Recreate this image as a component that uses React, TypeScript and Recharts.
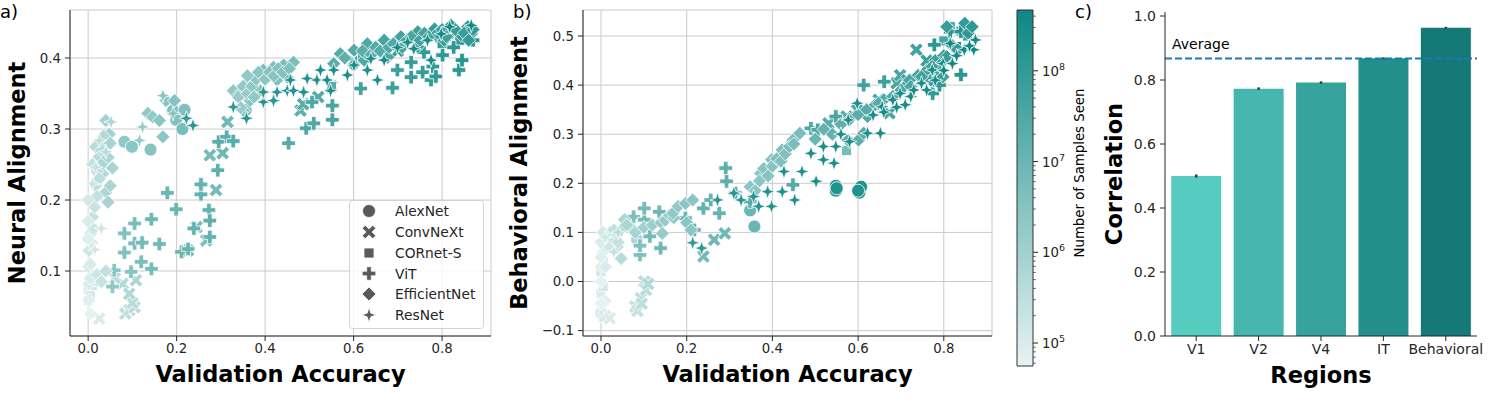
import React from 'react';
import {
  ScatterChart, Scatter, XAxis, YAxis, CartesianGrid,
  BarChart, Bar, Cell, ErrorBar, ReferenceLine, ReferenceArea, ComposedChart,
} from 'recharts';

// [validation accuracy, alignment, log10(samples seen)]
type Pt = [number, number, number];

// ---------- Panel a: Neural alignment ----------
const alexNetNeural: Pt[] = [
  [0.031, 0.266, 5.6], [0.082, 0.282, 6.3], [0.099, 0.275, 6.4], [0.141, 0.271, 6.5], [0.192, 0.326, 6.6],
  [0.199, 0.313, 6.6], [0.213, 0.300, 6.7], [0.218, 0.327, 6.6], [0.356, 0.327, 6.8], [0.372, 0.345, 6.7],
];
const convNextNeural: Pt[] = [
  [0.025, 0.033, 5.0], [0.084, 0.040, 5.5], [0.093, 0.045, 5.5], [0.105, 0.049, 5.6], [0.100, 0.055, 5.6],
  [0.078, 0.082, 5.7], [0.093, 0.068, 5.7], [0.108, 0.087, 5.8], [0.060, 0.090, 5.6],
  [0.226, 0.129, 6.6], [0.245, 0.162, 6.7], [0.267, 0.143, 6.7], [0.275, 0.263, 6.8], [0.289, 0.214, 6.8],
  [0.304, 0.266, 6.9], [0.315, 0.310, 6.9], [0.480, 0.326, 7.2], [0.486, 0.335, 7.3], [0.520, 0.345, 7.4],
  [0.550, 0.360, 7.5], [0.600, 0.395, 7.6], [0.700, 0.410, 7.8], [0.780, 0.430, 8.0], [0.830, 0.435, 8.1],
];
const cornetNeural: Pt[] = [
  [0.000, 0.058, 4.9], [0.000, 0.073, 5.0], [0.005, 0.065, 5.1], [0.010, 0.080, 5.2], [0.020, 0.085, 5.4],
  [0.550, 0.360, 7.3], [0.620, 0.400, 7.5], [0.800, 0.420, 7.9], [0.840, 0.425, 8.0], [0.860, 0.430, 8.1],
];
const vitNeural: Pt[] = [
  [0.055, 0.078, 6.3], [0.059, 0.101, 6.4], [0.082, 0.126, 6.6], [0.082, 0.153, 6.6], [0.097, 0.099, 6.5],
  [0.105, 0.139, 6.7], [0.105, 0.167, 6.7], [0.120, 0.113, 6.7], [0.122, 0.140, 6.8], [0.143, 0.103, 6.8],
  [0.143, 0.173, 6.9], [0.161, 0.138, 6.9], [0.179, 0.210, 7.0], [0.199, 0.187, 7.0], [0.211, 0.127, 7.0],
  [0.226, 0.131, 7.0], [0.239, 0.160, 7.1], [0.255, 0.208, 7.1], [0.255, 0.222, 7.1], [0.273, 0.186, 7.1],
  [0.275, 0.148, 7.1], [0.275, 0.171, 7.2], [0.293, 0.242, 7.2], [0.295, 0.282, 7.3], [0.313, 0.289, 7.3],
  [0.328, 0.283, 7.3], [0.453, 0.280, 7.4], [0.493, 0.301, 7.5], [0.510, 0.308, 7.5], [0.506, 0.338, 7.5],
  [0.552, 0.313, 7.6], [0.552, 0.333, 7.6], [0.616, 0.357, 7.7], [0.688, 0.358, 7.8], [0.699, 0.383, 7.8],
  [0.730, 0.373, 7.9], [0.730, 0.394, 7.9], [0.756, 0.380, 7.9], [0.759, 0.408, 8.0], [0.775, 0.369, 8.0],
  [0.779, 0.388, 8.0], [0.786, 0.374, 8.0], [0.801, 0.404, 8.1], [0.826, 0.415, 8.1], [0.838, 0.383, 8.1],
  [0.845, 0.397, 8.2], [0.870, 0.425, 8.2],
];
const effNetNeural: Pt[] = [
  [0.002, 0.059, 4.9], [0.006, 0.040, 4.8], [0.002, 0.082, 5.0], [0.002, 0.106, 5.1], [0.002, 0.129, 5.2],
  [0.006, 0.153, 5.3], [0.010, 0.176, 5.4], [0.010, 0.200, 5.4], [0.017, 0.220, 5.5], [0.025, 0.261, 5.6],
  [0.017, 0.275, 5.6], [0.033, 0.237, 5.7], [0.040, 0.211, 5.8], [0.045, 0.197, 5.9], [0.040, 0.279, 5.9],
  [0.048, 0.293, 6.0], [0.040, 0.312, 6.0], [0.030, 0.250, 5.8], [0.020, 0.240, 5.5],
  [0.005, 0.090, 5.0], [0.005, 0.110, 5.0], [0.008, 0.140, 5.1], [0.012, 0.160, 5.2], [0.015, 0.190, 5.3],
  [0.020, 0.205, 5.4], [0.025, 0.230, 5.5], [0.030, 0.270, 5.6], [0.035, 0.290, 5.7], [0.045, 0.260, 5.8],
  [0.050, 0.280, 5.9], [0.055, 0.245, 5.9], [0.050, 0.220, 5.8], [0.010, 0.250, 5.4], [0.000, 0.200, 5.1],
  [0.000, 0.170, 5.0], [0.000, 0.145, 4.9], [0.020, 0.095, 5.2], [0.030, 0.085, 5.3], [0.040, 0.100, 5.4],
  [0.135, 0.322, 6.3], [0.146, 0.317, 6.3], [0.161, 0.312, 6.4], [0.169, 0.289, 6.4], [0.176, 0.340, 6.5],
  [0.195, 0.340, 6.5], [0.328, 0.354, 6.3], [0.343, 0.350, 6.3], [0.351, 0.326, 6.4], [0.358, 0.364, 6.4],
  [0.366, 0.340, 6.4], [0.373, 0.373, 6.5], [0.389, 0.354, 6.5], [0.396, 0.383, 6.6], [0.419, 0.387, 6.6],
  [0.427, 0.369, 6.6], [0.442, 0.390, 6.7], [0.450, 0.373, 6.7], [0.464, 0.394, 6.7],
  [0.340, 0.345, 6.2], [0.350, 0.360, 6.3], [0.360, 0.350, 6.2], [0.370, 0.360, 6.3], [0.380, 0.370, 6.4],
  [0.385, 0.380, 6.4], [0.400, 0.370, 6.4], [0.410, 0.380, 6.5], [0.420, 0.375, 6.5], [0.430, 0.385, 6.5],
  [0.440, 0.380, 6.6], [0.455, 0.385, 6.6], [0.360, 0.375, 6.3], [0.375, 0.345, 6.3], [0.345, 0.330, 6.2],
  [0.555, 0.392, 7.3], [0.570, 0.406, 7.4], [0.601, 0.411, 7.4], [0.624, 0.397, 7.5], [0.631, 0.420, 7.5],
  [0.669, 0.425, 7.6], [0.677, 0.401, 7.6], [0.707, 0.430, 7.7], [0.745, 0.437, 7.8], [0.745, 0.416, 7.8],
  [0.783, 0.441, 7.9], [0.805, 0.425, 7.9], [0.820, 0.446, 8.0], [0.843, 0.432, 8.0], [0.858, 0.444, 8.1],
  [0.866, 0.434, 8.1],
  [0.580, 0.400, 7.2], [0.600, 0.390, 7.3], [0.620, 0.410, 7.3], [0.640, 0.405, 7.4], [0.650, 0.415, 7.4],
  [0.660, 0.410, 7.4], [0.680, 0.415, 7.5], [0.690, 0.420, 7.5], [0.710, 0.415, 7.6], [0.720, 0.425, 7.6],
  [0.730, 0.430, 7.6], [0.750, 0.425, 7.7], [0.760, 0.435, 7.7], [0.770, 0.430, 7.7], [0.790, 0.435, 7.8],
  [0.800, 0.440, 7.8], [0.810, 0.430, 7.8], [0.830, 0.440, 7.9], [0.850, 0.435, 7.9], [0.860, 0.425, 8.0],
  [0.870, 0.440, 8.0],
];
const resNetNeural: Pt[] = [
  [0.010, 0.223, 5.3], [0.017, 0.246, 5.4], [0.025, 0.284, 5.5], [0.040, 0.268, 5.6], [0.052, 0.310, 5.8],
  [0.116, 0.284, 6.2], [0.123, 0.303, 6.2], [0.169, 0.347, 6.4], [0.192, 0.322, 6.5], [0.030, 0.160, 5.2],
  [0.015, 0.130, 5.1],
  [0.222, 0.315, 8.0], [0.237, 0.305, 8.1], [0.328, 0.331, 8.1], [0.358, 0.315, 8.2], [0.396, 0.338, 8.2],
  [0.396, 0.352, 8.2], [0.419, 0.340, 8.2], [0.427, 0.352, 8.2], [0.450, 0.354, 8.3], [0.457, 0.369, 8.3],
  [0.464, 0.354, 8.3], [0.487, 0.352, 8.3], [0.495, 0.371, 8.3], [0.517, 0.369, 8.3], [0.525, 0.383, 8.4],
  [0.540, 0.369, 8.4], [0.548, 0.354, 8.4], [0.555, 0.383, 8.4], [0.586, 0.376, 8.4], [0.601, 0.390, 8.4],
  [0.631, 0.383, 8.4], [0.639, 0.399, 8.4], [0.654, 0.369, 8.4], [0.669, 0.397, 8.5], [0.699, 0.415, 8.5],
  [0.722, 0.422, 8.5], [0.736, 0.413, 8.5], [0.767, 0.425, 8.5], [0.775, 0.397, 8.5], [0.798, 0.434, 8.5],
  [0.817, 0.444, 8.6], [0.866, 0.446, 8.6],
];

// ---------- Panel b: Behavioral alignment ----------
const alexNetBehav: Pt[] = [
  [0.000, -0.064, 5.0], [0.084, 0.085, 5.8], [0.348, 0.145, 7.0], [0.358, 0.112, 7.0], [0.548, 0.195, 8.2],
  [0.548, 0.185, 8.1], [0.603, 0.181, 8.2], [0.607, 0.193, 8.3], [0.600, 0.185, 8.3], [0.550, 0.190, 8.3],
];
const convNextBehav: Pt[] = [
  [0.009, -0.071, 5.1], [0.020, -0.075, 5.0], [0.080, -0.051, 5.4], [0.085, -0.060, 5.4], [0.093, -0.034, 5.5],
  [0.095, -0.045, 5.5], [0.101, 0.000, 5.6], [0.105, -0.017, 5.6], [0.110, -0.005, 5.7], [0.239, 0.051, 6.8],
  [0.264, 0.085, 6.9], [0.289, 0.098, 6.9], [0.573, 0.336, 7.4], [0.598, 0.349, 7.5], [0.648, 0.370, 7.5],
  [0.673, 0.343, 7.6], [0.690, 0.404, 7.6], [0.698, 0.420, 7.6], [0.715, 0.410, 7.7], [0.736, 0.472, 7.7],
  [0.760, 0.450, 7.8], [0.531, 0.322, 7.3],
];
const cornetBehav: Pt[] = [
  [0.000, -0.024, 5.0], [0.005, -0.010, 5.1], [0.000, 0.020, 5.2], [0.005, 0.040, 5.3], [0.573, 0.267, 6.8],
  [0.815, 0.519, 7.6], [0.840, 0.510, 7.7], [0.855, 0.500, 7.8], [0.800, 0.490, 7.6],
];
const vitBehav: Pt[] = [
  [0.076, 0.132, 6.7], [0.091, 0.054, 6.6], [0.091, 0.073, 6.6], [0.101, 0.126, 6.8], [0.101, 0.149, 6.8],
  [0.114, 0.092, 6.8], [0.136, 0.142, 6.9], [0.139, 0.068, 6.9], [0.197, 0.129, 7.0], [0.218, 0.105, 7.0],
  [0.239, 0.149, 7.1], [0.256, 0.166, 7.1], [0.276, 0.139, 7.1], [0.291, 0.231, 7.2], [0.293, 0.204, 7.2],
  [0.314, 0.180, 7.2], [0.348, 0.163, 7.3], [0.448, 0.197, 7.4], [0.490, 0.312, 7.5], [0.506, 0.309, 7.5],
  [0.548, 0.336, 7.6], [0.613, 0.400, 7.7], [0.661, 0.407, 7.8], [0.774, 0.383, 8.0], [0.790, 0.400, 8.0],
  [0.778, 0.482, 8.1], [0.815, 0.509, 8.2], [0.836, 0.475, 8.2], [0.840, 0.421, 8.2], [0.840, 0.509, 8.2],
];
const effNetBehav: Pt[] = [
  [0.000, 0.000, 4.8], [0.000, 0.030, 4.9], [0.005, 0.060, 5.0], [0.013, 0.085, 5.2], [0.020, 0.100, 5.3],
  [0.038, 0.071, 5.5], [0.047, 0.047, 5.6], [0.047, 0.105, 5.7], [0.055, 0.126, 5.8], [0.070, 0.110, 5.9],
  [0.000, 0.050, 4.9], [0.000, 0.080, 5.0], [0.005, 0.100, 5.1], [0.010, 0.030, 5.0], [0.010, -0.040, 4.9],
  [0.000, -0.045, 4.8], [0.020, 0.070, 5.2], [0.025, 0.090, 5.3], [0.030, 0.105, 5.4], [0.040, 0.080, 5.4],
  [0.060, 0.115, 5.8], [0.080, 0.100, 5.9], [0.100, 0.110, 6.0], [0.120, 0.115, 6.1], [0.140, 0.120, 6.2],
  [0.150, 0.125, 6.2], [0.160, 0.135, 6.3], [0.170, 0.130, 6.3], [0.200, 0.120, 6.4], [0.210, 0.105, 6.4],
  [0.143, 0.098, 6.2], [0.168, 0.139, 6.3], [0.180, 0.153, 6.3], [0.197, 0.159, 6.4], [0.214, 0.166, 6.4],
  [0.348, 0.193, 6.4], [0.373, 0.220, 6.5], [0.398, 0.248, 6.5], [0.423, 0.268, 6.6], [0.448, 0.288, 6.7],
  [0.464, 0.302, 6.7], [0.576, 0.288, 7.2], [0.601, 0.288, 7.3], [0.613, 0.302, 7.3], [0.622, 0.336, 7.4],
  [0.370, 0.205, 6.4], [0.380, 0.230, 6.5], [0.390, 0.215, 6.5], [0.400, 0.235, 6.5], [0.410, 0.250, 6.6],
  [0.420, 0.245, 6.6], [0.430, 0.260, 6.6], [0.440, 0.275, 6.7], [0.450, 0.280, 6.7], [0.360, 0.185, 6.4],
  [0.500, 0.290, 7.0], [0.520, 0.310, 7.1], [0.540, 0.300, 7.1], [0.560, 0.320, 7.2], [0.580, 0.330, 7.2],
  [0.600, 0.340, 7.3], [0.620, 0.350, 7.4], [0.640, 0.360, 7.4], [0.660, 0.370, 7.5], [0.700, 0.390, 7.5],
  [0.720, 0.410, 7.6], [0.740, 0.420, 7.6], [0.760, 0.430, 7.7], [0.780, 0.450, 7.8], [0.790, 0.440, 7.8],
  [0.800, 0.460, 7.9], [0.820, 0.480, 7.9], [0.780, 0.420, 7.8], [0.770, 0.410, 7.7],
  [0.648, 0.363, 7.4], [0.681, 0.377, 7.5], [0.723, 0.397, 7.6], [0.748, 0.417, 7.7], [0.773, 0.438, 7.8],
  [0.798, 0.417, 7.8], [0.807, 0.458, 7.9], [0.807, 0.519, 7.9], [0.832, 0.472, 8.0], [0.849, 0.526, 8.0],
  [0.857, 0.506, 8.1], [0.866, 0.519, 8.1],
];
const resNetBehav: Pt[] = [
  [0.010, 0.090, 5.2], [0.030, 0.060, 5.4], [0.040, 0.100, 5.6],
  [0.214, 0.079, 8.0], [0.235, 0.068, 8.1], [0.272, 0.166, 8.1], [0.310, 0.180, 8.2], [0.327, 0.166, 8.2],
  [0.356, 0.173, 8.2], [0.368, 0.153, 8.2], [0.389, 0.183, 8.3], [0.398, 0.153, 8.3], [0.423, 0.183, 8.3],
  [0.427, 0.224, 8.3], [0.452, 0.166, 8.3], [0.469, 0.224, 8.3], [0.490, 0.261, 8.4], [0.502, 0.204, 8.4],
  [0.519, 0.248, 8.4], [0.519, 0.275, 8.4], [0.544, 0.241, 8.4], [0.548, 0.275, 8.4], [0.577, 0.329, 8.4],
  [0.598, 0.363, 8.4], [0.622, 0.302, 8.4], [0.635, 0.339, 8.5], [0.652, 0.302, 8.5], [0.656, 0.356, 8.5],
  [0.681, 0.370, 8.5], [0.698, 0.383, 8.5], [0.723, 0.377, 8.5], [0.748, 0.404, 8.5], [0.773, 0.431, 8.5],
  [0.798, 0.444, 8.6], [0.815, 0.485, 8.6], [0.820, 0.444, 8.6], [0.848, 0.472, 8.6], [0.870, 0.472, 8.6],
  [0.874, 0.492, 8.6],
  [0.660, 0.345, 8.5], [0.690, 0.355, 8.5], [0.710, 0.360, 8.5], [0.730, 0.390, 8.5], [0.760, 0.390, 8.5],
  [0.780, 0.410, 8.5], [0.800, 0.430, 8.6], [0.830, 0.460, 8.6], [0.860, 0.480, 8.6], [0.560, 0.300, 8.4],
  [0.580, 0.285, 8.4],
];

// ---------- Panel c ----------
const regions = ['V1', 'V2', 'V4', 'IT', 'Behavioral'];
const correlations = [0.500, 0.773, 0.792, 0.868, 0.963];
const correlationErrors = [0.005, 0.004, 0.004, 0.003, 0.003];
const regionColors = ['#56ccc1', '#45b7ae', '#36a39c', '#228f8a', '#137a77'];
const averageCorrelation = 0.867;

const modelNames = ['AlexNet', 'ConvNeXt', 'CORnet-S', 'ViT', 'EfficientNet', 'ResNet'];
const accTicks = [0, 0.2, 0.4, 0.6, 0.8];
const neuralTicks = [0.1, 0.2, 0.3, 0.4];
const behavTicks = [-0.1, 0, 0.1, 0.2, 0.3, 0.4, 0.5];
const corrTicks = [0, 0.2, 0.4, 0.6, 0.8, 1.0];

// ---------- styling ----------
const FONT = 'DejaVu Sans, sans-serif';
const INK = '#262626';
const GRID = '#cbcbcb';
const LOG_MIN = 4.747;
const LOG_MAX = 8.67;
const CM_LO = [231, 243, 242];
const CM_HI = [13, 136, 132];

function sampleColor(l: number): string {
  const t = Math.max(0, Math.min(1, (l - LOG_MIN) / (LOG_MAX - LOG_MIN)));
  const c = CM_LO.map((v, i) => Math.round(v + (CM_HI[i] - v) * t));
  return `rgb(${c[0]},${c[1]},${c[2]})`;
}

type Kind = 'circle' | 'x' | 'square' | 'plus' | 'diamond' | 'star';
const kinds: Kind[] = ['circle', 'x', 'square', 'plus', 'diamond', 'star'];

function plusPoly(s: number, a: number, rot: number): number[][] {
  const base = [[-a, -s], [a, -s], [a, -a], [s, -a], [s, a], [a, a], [a, s], [-a, s], [-a, a], [-s, a], [-s, -a], [-a, -a]];
  const c = Math.cos(rot), sn = Math.sin(rot);
  return base.map(([x, y]) => [x * c - y * sn, x * sn + y * c]);
}

function Marker({ kind, cx, cy, fill, stroke = '#ffffff', sw = 0.8 }: any) {
  const common = { fill, stroke, strokeWidth: sw };
  let pts: number[][] = [];
  switch (kind) {
    case 'circle':
      return <circle cx={cx} cy={cy} r={6.5} {...common} />;
    case 'square':
      return <rect x={cx - 5} y={cy - 5} width={10} height={10} {...common} />;
    case 'plus':
      pts = plusPoly(6.8, 2.3, 0);
      break;
    case 'x':
      pts = plusPoly(7.4, 2.2, Math.PI / 4);
      break;
    case 'diamond':
      pts = [[0, -7], [7, 0], [0, 7], [-7, 0]];
      break;
    case 'star':
      for (let i = 0; i < 8; i++) {
        const ang = (i * Math.PI) / 4 - Math.PI / 2;
        const r = i % 2 === 0 ? 7.4 : 2.6;
        pts.push([r * Math.cos(ang), r * Math.sin(ang)]);
      }
      break;
  }
  const d = pts.map(([x, y], i) => `${i ? 'L' : 'M'}${(cx + x).toFixed(2)},${(cy + y).toFixed(2)}`).join('') + 'Z';
  return <path d={d} {...common} />;
}

const shapeFor = (kind: Kind) => (props: any) => {
  const { cx, cy } = props;
  if (cx == null || cy == null || isNaN(cx) || isNaN(cy)) return <g />;
  const s = props.payload?.s ?? props.s;
  return <Marker kind={kind} cx={cx} cy={cy} fill={sampleColor(s)} />;
};

const toRows = (pts: Pt[]) => pts.map(([x, y, s]) => ({ x, y, s }));
const fmt1 = (v: number) => (v < 0 ? '\u2212' : '') + Math.abs(v).toFixed(1);
const tickStyle = { fill: INK, fontSize: 13.3, fontFamily: FONT };

function ScatterPanel({ series, xDomain, yDomain, yTicks, width, margin, yAxisWidth }: any) {
  return (
    <ScatterChart width={width} height={398} margin={margin}>
      <CartesianGrid stroke={GRID} strokeWidth={1} />
      <XAxis type="number" dataKey="x" domain={xDomain} ticks={accTicks} allowDataOverflow height={30}
        tickFormatter={fmt1} tick={tickStyle} tickSize={5} tickMargin={3} stroke={INK} interval={0} />
      <YAxis type="number" dataKey="y" domain={yDomain} ticks={yTicks} allowDataOverflow width={yAxisWidth}
        tickFormatter={fmt1} tick={tickStyle} tickSize={5} tickMargin={4} stroke={INK} interval={0} />
      {series.map((pts: Pt[], i: number) => (
        <Scatter key={modelNames[i]} name={modelNames[i]} data={toRows(pts)} shape={shapeFor(kinds[i])} isAnimationActive={false} />
      ))}
    </ScatterChart>
  );
}

// colorbar
const CB_MIN = Math.pow(10, LOG_MIN);
const CB_MAX = Math.pow(10, LOG_MAX);
const cbTicks: number[] = [];
for (let e = 4; e <= 8; e++) {
  for (let m = 1; m <= 9; m++) {
    const v = m * Math.pow(10, e);
    if (v >= CB_MIN && v <= CB_MAX) cbTicks.push(v);
  }
}

function CbTick(props: any) {
  const { x, y, payload } = props;
  const lv = Math.log10(payload.value);
  const exp = Math.round(lv);
  const major = Math.abs(lv - exp) < 1e-6;
  return (
    <g>
      <line x1={x} x2={x + (major ? 5 : 2.8)} y1={y} y2={y} stroke={INK} strokeWidth={major ? 1 : 0.7} />
      {major && (
        <text x={x + 9} y={y + 5} fontSize={13.3} fill={INK} fontFamily={FONT}>
          10<tspan dy={-6} fontSize={9.5}>{exp}</tspan>
        </text>
      )}
    </g>
  );
}

function Colorbar() {
  return (
    <ComposedChart width={70} height={398} data={[{ x: 0.5, y: 1e6 }]} margin={{ top: 10, right: 0, bottom: 32, left: 17 }}>
      <XAxis type="number" dataKey="x" domain={[0, 1]} hide height={30} />
      <YAxis type="number" dataKey="y" orientation="right" scale="log" domain={[CB_MIN, CB_MAX]} allowDataOverflow
        ticks={cbTicks} interval={0} width={37} axisLine={false} tickLine={false} tickSize={0} tickMargin={0} tick={<CbTick />} />
      <ReferenceArea x1={0} x2={1} y1={CB_MIN} y2={CB_MAX} fill="url(#cbGrad)" fillOpacity={1} stroke="#333333" strokeWidth={1} ifOverflow="visible" />
      <Scatter dataKey="y" shape={() => <g />} isAnimationActive={false} />
    </ComposedChart>
  );
}

const regionRows = regions.map((r, i) => ({ region: r, value: correlations[i], err: correlationErrors[i] }));

function RegionPanel() {
  return (
    <BarChart width={394} height={398} data={regionRows} margin={{ top: 12, right: 17, bottom: 32, left: 0 }} barCategoryGap="10%">
      <XAxis dataKey="region" height={30} tick={{ ...tickStyle, fontSize: 14 }} tickSize={5} tickMargin={3} stroke={INK} interval={0} />
      <YAxis type="number" domain={[0, 1.0125]} ticks={corrTicks} allowDataOverflow width={65}
        tickFormatter={fmt1} tick={{ ...tickStyle, fontSize: 14 }} tickSize={5} tickMargin={4} stroke={INK} interval={0} />
      <Bar dataKey="value" isAnimationActive={false}>
        {regionRows.map((r, i) => <Cell key={r.region} fill={regionColors[i]} />)}
        <ErrorBar dataKey="err" width={0} strokeWidth={2.5} stroke="#3d3d3d" direction="y" />
      </Bar>
      <ReferenceLine y={averageCorrelation} stroke="#1f77b4" strokeWidth={2} strokeDasharray="7 3" />
    </BarChart>
  );
}

const legendRowsY = [211, 232, 253, 273.5, 294, 315];

function Overlay() {
  const bold = { fontFamily: FONT, fontWeight: 700, fontSize: 22.5, fill: '#000' } as any;
  const plain = { fontFamily: FONT, fill: '#000' } as any;
  return (
    <svg width={1494} height={398} style={{ position: 'absolute', left: 0, top: 0, pointerEvents: 'none' }}>
      <defs>
        <linearGradient id="cbGrad" x1="0" y1="1" x2="0" y2="0">
          <stop offset="0" stopColor={sampleColor(LOG_MIN)} />
          <stop offset="1" stopColor={sampleColor(LOG_MAX)} />
        </linearGradient>
      </defs>
      <text x={0} y={18} fontSize={18} {...plain}>a)</text>
      <text x={513} y={18} fontSize={18} {...plain}>b)</text>
      <text x={1075} y={18} fontSize={18} {...plain}>c)</text>

      <text x={280.5} y={382} textAnchor="middle" {...bold}>Validation Accuracy</text>
      <text transform="translate(25,173) rotate(-90)" textAnchor="middle" {...bold}>Neural Alignment</text>
      <text x={787.5} y={382} textAnchor="middle" {...bold}>Validation Accuracy</text>
      <text transform="translate(527,173) rotate(-90)" textAnchor="middle" {...bold}>Behavioral Alignment</text>
      <text transform="translate(1084,173) rotate(-90)" textAnchor="middle" fontSize={13.3} {...plain}>Number of Samples Seen</text>
      <text transform="translate(1122,174) rotate(-90)" textAnchor="middle" {...bold}>Correlation</text>
      <text x={1321} y={383} textAnchor="middle" {...bold}>Regions</text>
      <text x={1172} y={48.5} fontSize={14} {...plain}>Average</text>

      <rect x={349.5} y={200.5} width={134} height={128} rx={3} fill="#ffffff" fillOpacity={0.8} stroke="#d3d3d3" strokeWidth={1} />
      {modelNames.map((name, i) => (
        <g key={name}>
          <Marker kind={kinds[i]} cx={369} cy={legendRowsY[i]} fill="#5a5a5a" stroke="#ffffff" sw={0.8} />
          <text x={395} y={legendRowsY[i] + 5} fontSize={13.8} {...plain} fill={INK}>{name}</text>
        </g>
      ))}
    </svg>
  );
}

export default function App() {
  return (
    <div style={{ position: 'absolute', left: 0, top: 0, width: 1494, height: 398, background: '#ffffff', fontFamily: FONT }}>
      <div style={{ position: 'absolute', left: 0, top: 0 }}>
        <ScatterPanel
          series={[alexNetNeural, convNextNeural, cornetNeural, vitNeural, effNetNeural, resNetNeural]}
          xDomain={[-0.041, 0.9105]} yDomain={[0.0085, 0.4676]} yTicks={neuralTicks}
          width={500} margin={{ top: 10, right: 9, bottom: 32, left: 0 }} yAxisWidth={70}
        />
      </div>
      <div style={{ position: 'absolute', left: 500, top: 0 }}>
        <ScatterPanel
          series={[alexNetBehav, convNextBehav, cornetBehav, vitBehav, effNetBehav, resNetBehav]}
          xDomain={[-0.042, 0.9125]} yDomain={[-0.111, 0.553]} yTicks={behavTicks}
          width={520} margin={{ top: 10, right: 28, bottom: 32, left: 0 }} yAxisWidth={83}
        />
      </div>
      <div style={{ position: 'absolute', left: 1000, top: 0 }}>
        <Colorbar />
      </div>
      <div style={{ position: 'absolute', left: 1100, top: 0 }}>
        <RegionPanel />
      </div>
      <Overlay />
    </div>
  );
}
